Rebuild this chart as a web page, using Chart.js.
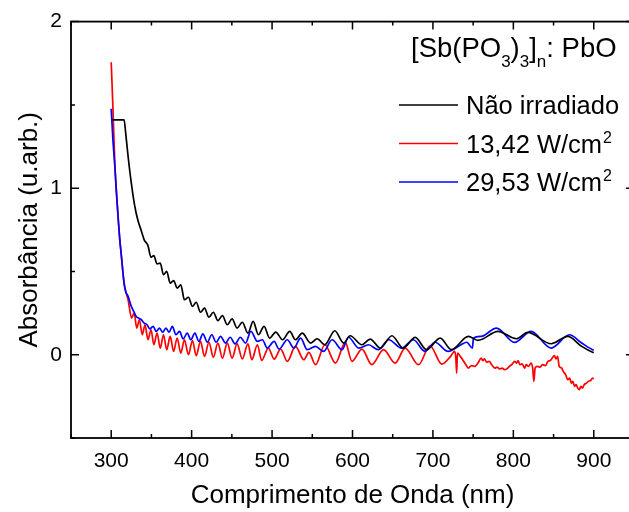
<!DOCTYPE html>
<html>
<head>
<meta charset="utf-8">
<script src="https://cdn.jsdelivr.net/npm/chart.js@4.4.0/dist/chart.umd.min.js"></script>
<style>
    html, body { margin: 0; padding: 0; background: #fff; overflow: hidden; }
    #wrap { width: 629px; height: 512px; overflow: hidden; }
</style>
</head>
<body>
<div id="wrap"><canvas id="myChart" width="645" height="512"></canvas></div>
<script>
const FONT = '"Liberation Sans", Arial, sans-serif';

// tick labels
const xTickLabels = [300, 400, 500, 600, 700, 800, 900];
const yTickLabels = [0, 1, 2];

// series names / colours
const seriesLabels = ['Não irradiado', '13,42 W/cm²', '29,53 W/cm²'];
const seriesColors = ['#000000', '#ff0000', '#0000ff'];

// Não irradiado
const blackX = [301, 316, 318, 321, 325, 329, 333, 337, 341, 345.7, 349.5, 353, 357, 361, 365, 369, 373.3, 377.6, 382,
    386.5, 391, 396, 401, 405.7, 411, 416, 421.5, 427, 432.6, 438.3, 444.3, 450.3, 456.5, 463, 470, 476.5, 483, 490, 497,
    504.6, 513, 522, 529, 537.5, 548, 556, 565.6, 578, 589, 597, 611.7, 622, 634.5, 649, 663, 678, 692, 709, 723, 744,
    756, 781, 803.6, 818, 847, 867.6, 885, 898.5, 900];
const blackY = [1.41, 1.41, 1.33, 1.19, 1.03, 0.90, 0.81, 0.75, 0.69, 0.655, 0.585, 0.595, 0.545, 0.55, 0.48, 0.50, 0.43, 0.445, 0.40,
    0.42, 0.33, 0.345, 0.29, 0.315, 0.255, 0.28, 0.225, 0.255, 0.205, 0.235, 0.18, 0.215, 0.16, 0.195, 0.13, 0.20, 0.12, 0.17, 0.10,
    0.136, 0.09, 0.14, 0.09, 0.13, 0.07, 0.096, 0.06, 0.144, 0.07, 0.114, 0.06, 0.094, 0.04, 0.114, 0.04, 0.104, 0.03, 0.10, 0.03, 0.11,
    0.086, 0.14, 0.096, 0.134, 0.066, 0.11, 0.05, 0.015, 0.013];

// 13,42 W/cm2
const redX = [300, 302, 304.5, 306.5, 308.5, 310.5, 312.7, 316, 318, 321, 325.3, 328.5, 331.8, 335, 338.6, 342, 345.7, 349.5,
    353, 357, 361, 365, 369, 373.3, 377.6, 382, 386.5, 391, 396, 401, 405.7, 411, 416, 421.5, 427, 432.6, 438.3, 444.3,
    450.3, 456.5, 463, 470, 474.8, 481.8, 487, 495.4, 502.5, 510.7, 519, 529, 539.6, 545.8, 554, 565.6, 578.8, 591, 599.4,
    611.7, 624, 638.6, 653, 665.5, 682, 696.4, 711, 722, 727, 728.5, 729.5, 730.5, 734, 737, 741, 744, 748, 752, 756, 760,
    762, 764, 767, 770, 773, 777, 780, 783, 786, 789, 792, 795, 798, 801.6, 804, 806, 808, 811, 814, 816, 819, 822, 824,
    825.5, 827, 830, 833, 836, 840, 843, 846, 849, 851, 853, 855, 857, 860, 862, 865, 867.6, 870, 872, 874, 876, 878, 880,
    882, 884, 886, 888, 891, 893, 896, 898.5, 900];
const redY = [1.756, 1.50, 1.15, 0.98, 0.83, 0.70, 0.59, 0.43, 0.38, 0.33, 0.22, 0.25, 0.16, 0.21, 0.12, 0.18, 0.09, 0.15,
    0.06, 0.13, 0.04, 0.12, 0.03, 0.11, 0.02, 0.10, 0.01, 0.09, 0.0, 0.085, -0.005, 0.08, -0.01, 0.075, -0.015, 0.07, -0.02, 0.07,
    -0.02, 0.065, -0.025, 0.065, -0.03, 0.06, -0.034, 0.04, -0.026, 0.034, -0.04, 0.05, -0.03, 0.014, -0.06, 0.06, -0.05, 0.074, -0.04,
    0.034, -0.06, 0.03, -0.05, 0.04, -0.06, 0.054, -0.056, -0.01, 0.02, -0.02, -0.11, 0.01, -0.01, -0.03, -0.06, -0.08, -0.065, -0.07, -0.05, -0.02,
    -0.035, -0.025, -0.045, -0.04, -0.06, -0.08, -0.075, -0.085, -0.08, -0.09, -0.085, -0.07, -0.06, -0.04, -0.05, -0.035, -0.06, -0.055, -0.08, -0.06, -0.07, -0.05, -0.08,
    -0.16, -0.08, -0.07, -0.075, -0.06, -0.065, -0.04, -0.035, -0.015, -0.005, -0.025, -0.01, -0.07, -0.08, -0.10, -0.12, -0.15, -0.14, -0.17, -0.16, -0.19, -0.18, -0.20,
    -0.21, -0.19, -0.20, -0.18, -0.17, -0.16, -0.155, -0.14, -0.145];

// 29,53 W/cm2
const blueX = [300, 302, 304.5, 306.5, 308.5, 310.5, 312.7, 316, 318, 321, 325, 328, 331, 334, 337.5, 341, 344.5, 348, 352,
    356, 360, 364, 368, 372, 376, 380.5, 385, 389.5, 394.5, 399, 404, 409, 414, 419.5, 425, 430.5, 436, 442, 448, 454,
    460.5, 467, 473.6, 481.8, 488, 494, 502.5, 508.7, 519, 527, 535.5, 543.7, 554, 564, 574.6, 587, 595, 607.7, 620, 632,
    645, 661, 675.7, 690, 702.6, 719, 735, 742, 749, 750.5, 760, 779, 801.5, 822, 847, 869.7, 885, 898.5, 900];
const blueY = [1.477, 1.30, 1.13, 0.97, 0.83, 0.70, 0.59, 0.43, 0.38, 0.35, 0.29, 0.26, 0.23, 0.22, 0.21, 0.19, 0.18, 0.155, 0.17,
    0.14, 0.16, 0.135, 0.16, 0.135, 0.17, 0.12, 0.14, 0.095, 0.13, 0.09, 0.13, 0.08, 0.125, 0.075, 0.12, 0.075, 0.11, 0.07, 0.105, 0.065,
    0.105, 0.07, 0.14, 0.08, 0.09, 0.04, 0.08, 0.034, 0.09, 0.04, 0.10, 0.03, 0.05, 0.02, 0.09, 0.03, 0.105, 0.04, 0.06, 0.03,
    0.09, 0.04, 0.09, 0.02, 0.075, 0.02, 0.06, 0.075, 0.04, 0.10, 0.11, 0.16, 0.074, 0.14, 0.04, 0.12, 0.07, 0.03, 0.028];

const ctx = document.getElementById('myChart');

function points(xs, ys) {
    return xs.map((x, i) => ({ x: x, y: ys[i] }));
}

// axes frame with inward ticks on all four sides
const framePlugin = {
    id: 'frame',
    afterDraw(chart) {
        const { ctx, chartArea: a } = chart;
        const xs = chart.scales.x, ys = chart.scales.y;
        ctx.save();
        ctx.strokeStyle = '#000';
        ctx.lineWidth = 1.8;
        ctx.strokeRect(a.left, a.top, a.right - a.left, a.bottom - a.top);
        ctx.lineWidth = 1.5;
        ctx.beginPath();
        xs.ticks.forEach(t => {
            const px = xs.getPixelForValue(t.value);
            const len = t.value % 100 === 0 ? 8 : 4;
            ctx.moveTo(px, a.bottom); ctx.lineTo(px, a.bottom - len);
            ctx.moveTo(px, a.top); ctx.lineTo(px, a.top + len);
        });
        ys.ticks.forEach(t => {
            const py = ys.getPixelForValue(t.value);
            const len = Number.isInteger(t.value) ? 8 : 4;
            ctx.moveTo(a.left, py); ctx.lineTo(a.left + len, py);
            ctx.moveTo(a.right, py); ctx.lineTo(a.right - len, py);
        });
        ctx.stroke();
        ctx.restore();
    }
};

// legend with sub/superscripts
const legendPlugin = {
    id: 'sampleLegend',
    afterDraw(chart) {
        const c = chart.ctx;
        c.save();
        c.fillStyle = '#000';
        c.textBaseline = 'alphabetic';
        let x = 411;
        const parts = [['[Sb(PO', 0], ['3', 1], [')', 0], ['3', 1], [']', 0], ['n', 1], [': PbO', 0]];
        parts.forEach(p => {
            c.font = (p[1] ? '17px ' : '27.5px ') + FONT;
            c.fillText(p[0], x, p[1] ? 67 : 57);
            x += c.measureText(p[0]).width;
        });
        chart.data.datasets.forEach((ds, i) => {
            const y = 105 + i * 38.5;
            c.strokeStyle = ds.borderColor;
            c.lineWidth = 1.5;
            c.beginPath();
            c.moveTo(399, y);
            c.lineTo(458, y);
            c.stroke();
            const txt = ds.label.replace('²', '');
            c.font = '25.5px ' + FONT;
            c.fillText(txt, 466, y + 9);
            if (ds.label.indexOf('²') >= 0) {
                const w = c.measureText(txt).width;
                c.font = '16px ' + FONT;
                c.fillText('2', 466 + w + 1, y - 1);
            }
        });
        c.restore();
    }
};

const datasets = [
    { label: seriesLabels[0], data: points(blackX, blackY) },
    { label: seriesLabels[1], data: points(redX, redY) },
    { label: seriesLabels[2], data: points(blueX, blueY) }
].map((d, i) => Object.assign(d, {
    borderColor: seriesColors[i],
    borderWidth: 1.7,
    pointRadius: 0,
    cubicInterpolationMode: 'monotone',
    fill: false
}));

// black on top, then blue, red underneath
datasets[0].order = 1;
datasets[1].order = 3;
datasets[2].order = 2;

const myChart = new Chart(ctx, {
    type: 'line',
    data: { datasets: datasets },
    plugins: [framePlugin, legendPlugin],
    options: {
        responsive: false,
        animation: false,
        devicePixelRatio: 1,
        layout: { padding: { top: 21, right: 9, left: 0, bottom: 0 } },
        plugins: { legend: { display: false }, tooltip: { enabled: false } },
        scales: {
            x: {
                type: 'linear',
                min: 250,
                max: 950,
                grid: { display: false, drawTicks: false },
                border: { display: false },
                ticks: {
                    stepSize: 50,
                    autoSkip: false,
                    maxRotation: 0,
                    padding: 11,
                    color: '#000',
                    font: { size: 21, family: FONT },
                    callback: v => xTickLabels.includes(v) ? String(v) : ''
                },
                title: {
                    display: true,
                    text: 'Comprimento de Onda (nm)',
                    color: '#000',
                    font: { size: 26, family: FONT },
                    padding: { top: 0, bottom: 1 }
                },
                afterFit: s => { s.height = 74; }
            },
            y: {
                min: -0.5,
                max: 2,
                grid: { display: false, drawTicks: false },
                border: { display: false },
                ticks: {
                    stepSize: 0.5,
                    padding: 9,
                    color: '#000',
                    font: { size: 21, family: FONT },
                    callback: v => yTickLabels.includes(v) ? String(v) : ''
                },
                title: {
                    display: true,
                    text: 'Absorbância (u.arb.)',
                    color: '#000',
                    font: { size: 26, family: FONT },
                    padding: { top: 14, bottom: 0 }
                },
                afterFit: s => { s.width = 71; }
            }
        }
    }
});
</script>
</body>
</html>
